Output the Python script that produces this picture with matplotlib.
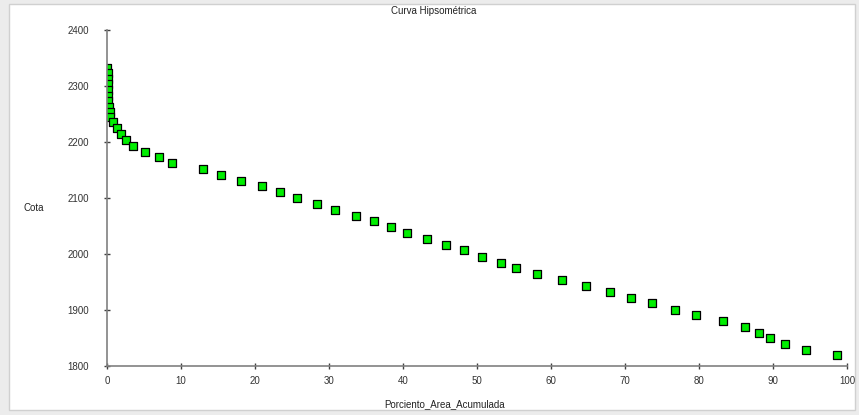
import numpy as np
import matplotlib.pyplot as plt
from matplotlib.patches import Rectangle

# --- DATA ---
porciento_area = [0.05, 0.07, 0.09, 0.11, 0.13, 0.16, 0.2, 0.25, 0.35, 0.45,
                  0.8, 1.4, 1.9, 2.6, 3.5, 5.1, 7.0, 8.8,
                  13.0, 15.4, 18.1, 20.9, 23.4, 25.7, 28.4, 30.8, 33.6, 36.1,
                  38.4, 40.5, 43.2, 45.8, 48.2, 50.7, 53.2, 55.3, 58.1, 61.5,
                  64.7, 68.0, 70.8, 73.6, 76.8, 79.6, 83.2, 86.2, 88.1, 89.6,
                  91.6, 94.5, 98.6]
cota = [2333, 2323, 2313, 2303, 2293, 2283, 2273, 2263, 2254, 2245,
        2236, 2225, 2214, 2204, 2193, 2182, 2173, 2163,
        2152, 2141, 2130, 2121, 2110, 2100, 2089, 2079, 2068, 2059,
        2048, 2037, 2027, 2016, 2007, 1995, 1984, 1975, 1964, 1954,
        1943, 1932, 1921, 1912, 1900, 1891, 1880, 1870, 1859, 1850,
        1839, 1829, 1820]

x_ticks = [0, 10, 20, 30, 40, 50, 60, 70, 80, 90, 100]
y_ticks = [1800, 1900, 2000, 2100, 2200, 2300, 2400]

plt.rcParams['font.family'] = ['Liberation Sans', 'DejaVu Sans']

W, H = 859, 415
fig = plt.figure(figsize=(W / 100, H / 100), dpi=100)
fig.patch.set_facecolor('#ececec')

# white panel behind the chart
panel = Rectangle((9 / W, 1 - 410 / H), (855 - 9) / W, (410 - 4) / H,
                  transform=fig.transFigure, facecolor='white',
                  edgecolor='#d0d0d0', linewidth=1, zorder=-5)
fig.patches.append(panel)

ax = fig.add_axes([107 / W, 1 - 366 / H, (847 - 107) / W, (366 - 30) / H])
ax.set_facecolor('none')
ax.set_zorder(2)

ax.scatter(porciento_area, cota, marker='s', s=36, color='#00ee00',
           edgecolors='black', linewidths=0.9, zorder=3, clip_on=True)

ax.set_xlim(0, 100)
ax.set_ylim(1800, 2400)
ax.set_xticks(x_ticks)
ax.set_yticks(y_ticks)

for side in ['top', 'right']:
    ax.spines[side].set_visible(False)
for side in ['left', 'bottom']:
    ax.spines[side].set_color('#808080')
    ax.spines[side].set_linewidth(1.2)
    ax.spines[side].set_zorder(4)

ax.tick_params(axis='both', direction='inout', length=4, width=1,
               color='#404040', labelsize=7, labelcolor='#333333')
ax.tick_params(axis='y', pad=11)
ax.tick_params(axis='x', pad=5)

fig.text(434 / W, 1 - 11 / H, 'Curva Hipsométrica', ha='center', va='center',
         fontsize=7, color='#222222')
fig.text(34 / W, 1 - 208 / H, 'Cota', ha='center', va='center',
         fontsize=7, color='#222222')
fig.text(445 / W, 1 - 404 / H, 'Porciento_Area_Acumulada', ha='center',
         va='center', fontsize=7, color='#222222')

fig.savefig('out.png', dpi=100, facecolor=fig.get_facecolor())
